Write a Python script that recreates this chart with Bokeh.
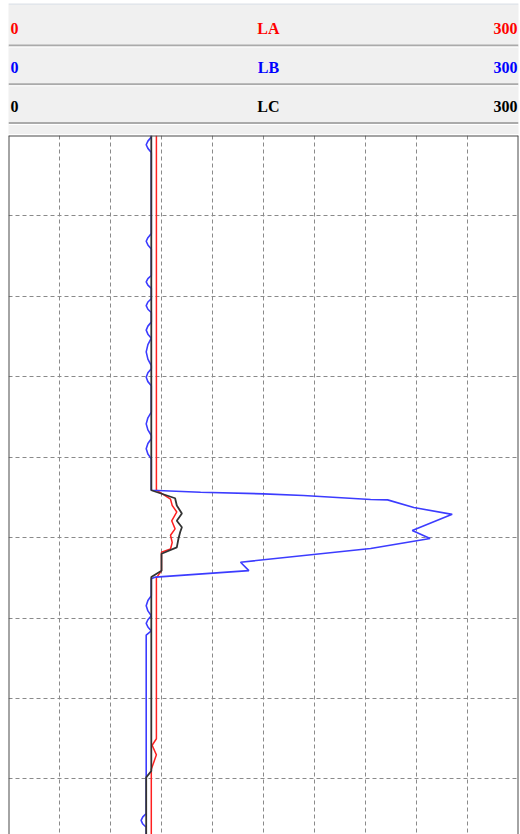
from bokeh.plotting import figure
from bokeh.layouts import column
from bokeh.models import Range1d, Span, Grid, SingleIntervalTicker, ColumnDataSource
from bokeh.core.properties import value
from bokeh.embed import file_html
from bokeh.resources import INLINE

# Curve header settings
curve_names = ["LA", "LB", "LC"]
curve_colors = ["#ff0000", "#0000ff", "#000000"]
scale_min = [0, 0, 0]
scale_max = [300, 300, 300]

# Depth window and grid spacing
depth_top = 1000
depth_bottom = 1086.9
depth_step = 10
value_step = 30

# LA (red)
la_depth = [1000, 1044.1, 1045.2, 1046.0, 1046.8, 1047.9, 1048.9, 1049.7, 1050.6,
            1051.4, 1051.8, 1054.1, 1055.0, 1075.0, 1075.8, 1077.0, 1078.8, 1086.9]
la_value = [87, 87, 95.3, 96.3, 99, 96, 98, 95.3, 96.3,
            95.3, 90, 90, 87, 87, 84.5, 87, 84, 84]

# LB (blue)
lb_depth = [1000.0, 1000.2, 1000.7, 1001.15, 1001.6, 1002.1,
            1012.2, 1012.7, 1013.15, 1013.6, 1014.1,
            1017.4, 1017.8, 1018.2, 1018.6, 1019.0,
            1020.3, 1020.7, 1021.15, 1021.6, 1022.0,
            1023.2, 1023.7, 1024.2, 1024.7, 1025.2,
            1026.0, 1026.9, 1027.8, 1028.6,
            1029.0, 1029.5, 1030.05, 1030.6, 1031.1,
            1034.4, 1035.1, 1035.85, 1036.6, 1037.3,
            1037.7, 1038.3, 1038.95, 1039.6, 1040.2,
            1044.1, 1044.35, 1044.55, 1044.76, 1045.26, 1045.3, 1046.25, 1047.1,
            1049.1, 1050.1, 1051.35, 1053.05, 1054.1, 1054.9, 1055.1,
            1057.2, 1057.8, 1058.45, 1059.1, 1059.7,
            1060.2, 1060.65, 1061.1, 1061.6, 1062.1,
            1084.3, 1084.7, 1085.15, 1085.6, 1086.0, 1086.9]
lb_value = [84, 84, 82, 81, 82, 84,
            84, 82, 81, 82, 84,
            84, 82, 81, 82, 84,
            84, 82, 81, 82, 84,
            84, 82, 81, 82, 84,
            82, 81, 82, 84,
            84, 82, 81, 82, 84,
            84, 82, 81, 82, 84,
            84, 82, 81, 82, 84,
            84, 113, 150, 173.5, 213, 223, 238.4, 261,
            237.5, 248, 213, 136.5, 141.4, 86.5, 84,
            84, 82, 81, 82, 84,
            82, 81, 82, 84, 81,
            81, 79, 78, 79, 81, 81]

# LC (black)
lc_depth = [1000, 1044.1, 1045.1, 1046.0, 1047.0, 1047.9, 1048.7, 1049.3, 1050.1,
            1051.2, 1052.0, 1054.1, 1054.9, 1079.0, 1079.8, 1086.9]
lc_value = [84, 84, 98, 99, 102, 99, 102, 101, 100,
            99, 90, 90, 84, 84, 81, 81]

WIDTH = 520
HEADER_H = 134
TRACK_H = 700
ROW_H = 38.75
FIRST_SEP = 42

# ---------- header with curve names and scales ----------
header = figure(width=WIDTH, height=HEADER_H,
                x_range=Range1d(0, WIDTH - 6), y_range=Range1d(HEADER_H - 3, 0),
                x_axis_location=None, y_axis_location=None,
                toolbar_location=None, output_backend="svg",
                min_border_left=6, min_border_right=0,
                min_border_top=3, min_border_bottom=0,
                background_fill_color="#f0f0f0", border_fill_color="white",
                outline_line_color=None)
header.grid.visible = False

header.add_layout(Span(location=0.5, dimension="width",
                       line_color="#d3dce6", line_width=1))
for i in range(len(curve_names)):
    sep = FIRST_SEP + i * ROW_H
    header.add_layout(Span(location=sep, dimension="width",
                           line_color="#aaaaaa", line_width=2))
    header.add_layout(Span(location=sep + 1.5, dimension="width",
                           line_color="#ffffff", line_width=1))

rows = [FIRST_SEP - 17 + i * ROW_H for i in range(len(curve_names))]
hdr = ColumnDataSource(dict(
    y=rows,
    name=curve_names,
    lo=[str(v) for v in scale_min],
    hi=[str(v) for v in scale_max],
    color=curve_colors,
))
font = dict(text_font=value("Liberation Serif"), text_font_style="bold",
            text_font_size="16px", text_baseline="middle")
header.text(x=2, y="y", text="lo", text_color="color", text_align="left",
            source=hdr, **font)
header.text(x=262, y="y", text="name", text_color="color", text_align="center",
            source=hdr, **font)
header.text(x=WIDTH - 7, y="y", text="hi", text_color="color", text_align="right",
            source=hdr, **font)

# ---------- log track ----------
track = figure(width=WIDTH, height=TRACK_H,
               x_range=Range1d(scale_min[0], scale_max[0]),
               y_range=Range1d(depth_bottom, depth_top),
               x_axis_location=None, y_axis_location=None,
               toolbar_location=None, output_backend="svg",
               min_border_left=8, min_border_right=2,
               min_border_top=1, min_border_bottom=0,
               background_fill_color="white", border_fill_color="white",
               outline_line_color=None)
track.grid.visible = False

grid_style = dict(grid_line_color="#8a8a8a", grid_line_width=1, grid_line_dash="4 3")
track.add_layout(Grid(dimension=0, ticker=SingleIntervalTicker(interval=value_step), **grid_style))
track.add_layout(Grid(dimension=1, ticker=SingleIntervalTicker(interval=depth_step), **grid_style))

track.line(la_value, la_depth, line_color="#ff2020", line_width=1.5)
track.line(lb_value, lb_depth, line_color="#3c3cff", line_width=1.6)
track.line(lc_value, lc_depth, line_color="#333333", line_width=1.8)

border = dict(line_color="#4a4a4a", line_width=2)
track.add_layout(Span(location=scale_min[0], dimension="height", **border))
track.add_layout(Span(location=scale_max[0], dimension="height", **border))
track.add_layout(Span(location=depth_top, dimension="width", **border))

layout = column(header, track, spacing=0)
open("out.html", "w").write(file_html(layout, INLINE))
